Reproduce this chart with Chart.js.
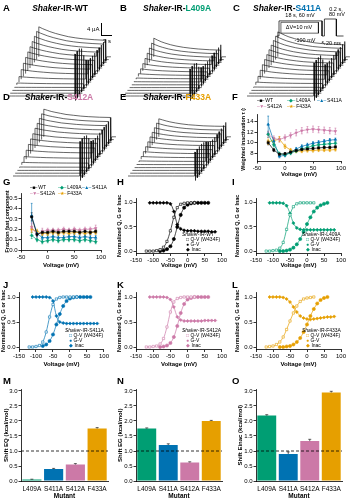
<!DOCTYPE html>
<html>
<head>
<meta charset="utf-8">
<script src="https://cdn.jsdelivr.net/npm/chart.js@4.4.1/dist/chart.umd.min.js"></script>
<style>
html,body{margin:0;padding:0;background:#fff;}
body{width:353px;height:500px;position:relative;overflow:hidden;font-family:'Liberation Sans',Arial,Helvetica,sans-serif;color:#000;}
canvas{position:absolute;}
.t{position:absolute;white-space:nowrap;line-height:1;}
.sb{position:absolute;border-left:0.8px solid #000;border-bottom:0.8px solid #000;box-sizing:border-box;}
</style>
</head>
<body>
<script>
// ---------------- DATA ----------------
const COLORS = {WT:'#000000', L409A:'#009E73', S411A:'#0072B2', S412A:'#CC79A7', F433A:'#E69F00'};
const MUTANTS = ['L409A','S411A','S412A','F433A'];

// current traces (A-E): 15 sweeps, -80..+60 mV
const traceVolt = [-80,-70,-60,-50,-40,-30,-20,-10,0,10,20,30,40,50,60];
const decayTime = [0,1,2,3,4.5,6,8,10,12,15,18];
const peakWT    = [0,0,0,0.1,0.6,1.8,3.2,4.4,5.4,6.3,7.1,7.9,8.7,9.4,10.0];
const decayWT   = [1,0.94,0.89,0.84,0.78,0.73,0.67,0.63,0.6,0.57,0.55];
const testWT    = [14,14,13.9,13,9.8,7.3,6.3,6,5.9,5.9,5.9,5.8,5.8,5.8,5.8];
const peakL409A = [0,0,0,0,0,0.1,0.4,0.9,1.6,2.4,3.2,4.0,4.8,5.5,6.2];
const decayL409A= [1,0.9,0.81,0.74,0.65,0.58,0.51,0.46,0.42,0.38,0.36];
const testL409A = [9,9,8.9,8.2,6,4.8,4.3,4.2,4.1,4.1,4.1,4.1,4,4,4];
const peakS411A = [0,0,0,0.2,0.9,1.9,3,3.9,4.7,5.4,6.1,6.7,7.3,7.8,8.3];
const decayS411A= [1,0.93,0.86,0.8,0.73,0.67,0.61,0.56,0.53,0.5,0.48];
const testS411A = [11,11,11,10.7,8.4,5.8,5.3,5.2,5.2,5.2,5.2,5.2,5.1,5.1,5.1];
const peakS412A = [0,0,0,0.2,0.8,1.8,3,4,4.9,5.7,6.6,7.3,8,8.6,9.2];
const decayS412A= [1,0.96,0.92,0.89,0.85,0.81,0.78,0.75,0.73,0.71,0.7];
const testS412A = [11.5,11.5,11.4,10.7,8.9,7,6.3,6.1,6,6,6,6,6,6,6];
const peakF433A = [0,0,0,0,0.1,0.35,0.9,1.6,2.3,3,3.7,4.3,4.9,5.5,6.0];
const decayF433A= [1,0.94,0.88,0.83,0.77,0.72,0.67,0.64,0.61,0.59,0.58];
const testF433A = [8,8,8,7.9,7.5,6.7,5.7,5,4.7,4.5,4.5,4.5,4.6,4.7,4.8];

// voltage protocol (schematic time units)
const protoTime = [-1,0,0,18,18,19,19,24,24,27];
const protoVolt = [-100,-100,60,60,-100,-100,80,80,-100,-100];
const famLevels = [-70,45];
const famSpan   = [0.8,16.5];

// F: weighted inactivation tau (s)
const tauVolt = [-30,-20,-10,0,10,20,30,40,50,60,70,80,90];
const tauWT    = [10.0,8.6,7.8,7.9,8.2,8.5,8.7,8.8,8.9,9.0,9.1,9.1,9.2];
const tauL409A = [11.6,9.6,7.9,7.7,8.0,8.4,8.8,9.1,9.4,9.6,9.7,9.8,9.9];
const tauS411A = [13.5,10.3,7.4,7.6,8.2,8.8,9.3,9.6,9.9,10.1,10.3,10.5,10.6];
const tauS412A = [11.6,10.8,10.6,11.0,11.4,11.9,12.3,12.5,12.6,12.5,12.4,12.3,12.2];
const tauF433A = [10.2,10.4,10.7,9.3,8.6,8.4,8.4,8.5,8.5,8.6,8.6,8.6,8.7];
const tauErrWT    = [0.4,0.3,0.2,0.2,0.2,0.2,0.2,0.2,0.2,0.2,0.2,0.2,0.2];
const tauErrL409A = [0.6,0.4,0.3,0.3,0.3,0.3,0.3,0.3,0.3,0.3,0.3,0.3,0.3];
const tauErrS411A = [1.6,0.6,0.3,0.3,0.3,0.3,0.3,0.3,0.3,0.3,0.3,0.3,0.3];
const tauErrS412A = [0.6,0.5,0.5,0.5,0.5,0.6,0.6,0.6,0.6,0.6,0.6,0.6,0.6];
const tauErrF433A = [0.5,0.5,0.5,0.4,0.3,0.3,0.3,0.3,0.3,0.3,0.3,0.3,0.3];

// G: fraction fast component
const fastWT    = [0.32,0.15,0.17,0.17,0.18,0.17,0.18,0.18,0.18,0.17,0.18,0.17,0.18];
const fastL409A = [0.14,0.10,0.08,0.09,0.10,0.09,0.10,0.10,0.10,0.09,0.10,0.09,0.08];
const fastS411A = [0.33,0.16,0.12,0.12,0.13,0.12,0.12,0.13,0.13,0.12,0.13,0.12,0.12];
const fastS412A = [0.22,0.15,0.18,0.19,0.19,0.19,0.20,0.19,0.20,0.19,0.20,0.20,0.21];
const fastF433A = [0.20,0.18,0.16,0.16,0.17,0.16,0.17,0.16,0.17,0.17,0.16,0.17,0.17];
const fastErrWT    = [0.04,0.02,0.02,0.02,0.02,0.02,0.02,0.02,0.02,0.02,0.02,0.02,0.02];
const fastErrL409A = [0.03,0.02,0.02,0.02,0.02,0.02,0.02,0.02,0.02,0.02,0.02,0.02,0.02];
const fastErrS411A = [0.12,0.03,0.02,0.02,0.02,0.02,0.02,0.02,0.02,0.02,0.02,0.02,0.02];
const fastErrS412A = [0.04,0.03,0.03,0.02,0.02,0.02,0.02,0.02,0.02,0.02,0.02,0.02,0.03];
const fastErrF433A = [0.03,0.02,0.02,0.02,0.02,0.02,0.02,0.02,0.02,0.02,0.02,0.02,0.02];

// H-L: normalized Q-V, G-V, inactivation
const qvVolt   = [-120,-110,-100,-90,-80,-70,-60,-50,-40,-30,-20,-10,0,10,20];
const gvVolt   = [-80,-70,-60,-50,-40,-30,-20,-10,0,10,20,30,40,50,60];
const inacVolt = [-110,-100,-90,-80,-70,-60,-50,-40,-30,-20,-10,0,10,20,30,40,50,60,70,80];
const qvWT    = [0,0,0,0.01,0.03,0.08,0.2,0.42,0.7,0.9,0.97,0.99,1,1,1];
const gvWT    = [0,0.01,0.04,0.1,0.25,0.5,0.75,0.9,0.96,0.99,1,1,1,1,1];
const inacWT  = [1,1,1,1,1,1,0.98,0.82,0.55,0.46,0.43,0.42,0.42,0.42,0.41,0.41,0.41,0.41,0.4,0.4];
const qvL409A   = [0,0,0.01,0.02,0.06,0.18,0.45,0.75,0.92,0.98,1,1,1,1,1];
const gvL409A   = [0,0,0.01,0.03,0.07,0.14,0.25,0.4,0.56,0.7,0.82,0.9,0.95,0.98,1];
const inacL409A = [1,1,1,1,0.99,0.94,0.78,0.58,0.48,0.45,0.44,0.44,0.44,0.44,0.44,0.44,0.44,0.44,0.44,0.44];
const qvS411A   = [0,0,0.01,0.03,0.1,0.3,0.6,0.85,0.96,0.99,1,1,1,1,1];
const gvS411A   = [0.02,0.05,0.12,0.25,0.45,0.66,0.82,0.92,0.97,0.99,1,1,1,1,1];
const inacS411A = [1,1,1,1,1,0.99,0.92,0.62,0.5,0.48,0.47,0.47,0.47,0.47,0.47,0.47,0.47,0.47,0.47,0.47];
const qvS412A   = [0,0,0.01,0.02,0.06,0.17,0.4,0.7,0.9,0.97,0.99,1,1,1,1];
const gvS412A   = [0,0.01,0.03,0.08,0.2,0.42,0.68,0.86,0.95,0.98,1,1,1,1,1];
const inacS412A = [1,1,1,1,1,0.99,0.95,0.8,0.6,0.54,0.52,0.52,0.52,0.52,0.52,0.52,0.53,0.53,0.53,0.53];
const qvF433A   = [0,0.01,0.02,0.05,0.1,0.2,0.35,0.52,0.68,0.82,0.91,0.96,0.98,0.99,1];
const gvF433A   = [0,0,0.01,0.02,0.05,0.1,0.18,0.3,0.45,0.62,0.76,0.87,0.94,0.98,1];
const inacF433A = [1,1,1,1,0.99,0.96,0.9,0.8,0.7,0.62,0.58,0.56,0.55,0.56,0.57,0.58,0.59,0.6,0.6,0.61];

// M-O: energy shifts (kcal/mol)
const shiftQ       = [0.05,0.40,0.55,1.75];
const shiftQErr    = [0.01,0.02,0.03,0.03];
const shiftG       = [1.75,1.20,0.62,2.00];
const shiftGErr    = [0.02,0.04,0.02,0.02];
const shiftInac    = [2.18,0.90,1.33,2.95];
const shiftInacErr = [0.03,0.07,0.06,0.04];
const REF_LEVEL = 1.0;

// ---------------- HELPERS ----------------
const FONT = "'Liberation Sans', Arial, Helvetica, sans-serif";
Chart.defaults.font.family = FONT;
Chart.defaults.color = '#000';

function drawErr(chart){
  const ctx = chart.ctx;
  chart.data.datasets.forEach((ds,di)=>{
    if(!ds.errors) return;
    const meta = chart.getDatasetMeta(di);
    const ys = chart.scales[meta.yAxisID];
    ctx.save();
    ctx.strokeStyle = ds.errColor || ds.borderColor || '#000';
    ctx.lineWidth = 0.6;
    const cap = ds.errCap || 1.2;
    meta.data.forEach((el,i)=>{
      const e = ds.errors[i], d = ds.data[i];
      if(e==null || d==null) return;
      const v = (typeof d === 'object') ? d.y : d;
      const x = el.x;
      const y1 = ys.getPixelForValue(ds.errUp ? v : v-e), y2 = ys.getPixelForValue(v+e);
      ctx.beginPath();
      ctx.moveTo(x,y1); ctx.lineTo(x,y2);
      if(!ds.errUp){ctx.moveTo(x-cap,y1); ctx.lineTo(x+cap,y1);}
      ctx.moveTo(x-cap,y2); ctx.lineTo(x+cap,y2);
      ctx.stroke();
    });
    ctx.restore();
  });
}
const errPlugin = {
  id:'errbars',
  beforeDatasetsDraw(chart){ if(chart.config.type!=='bar') drawErr(chart); },
  afterDatasetsDraw(chart){ if(chart.config.type==='bar') drawErr(chart); }
};
const refPlugin = {
  id:'refline',
  afterDatasetsDraw(chart,args,opts){
    if(opts==null || opts.value==null) return;
    const y = chart.scales.y.getPixelForValue(opts.value), a = chart.chartArea, c = chart.ctx;
    c.save(); c.setLineDash([3,2]); c.strokeStyle='#000'; c.lineWidth=0.8;
    c.beginPath(); c.moveTo(a.left,y); c.lineTo(a.right,y); c.stroke(); c.restore();
  }
};
Chart.register(errPlugin, refPlugin);

function mkCanvas(L,T,W,H){
  const c = document.createElement('canvas');
  c.width=W; c.height=H;
  c.style.left=L+'px'; c.style.top=T+'px'; c.style.width=W+'px'; c.style.height=H+'px';
  document.body.appendChild(c);
  return c;
}
function addText(html,x,y,o){
  o = o||{};
  const d = document.createElement('div');
  d.className='t'; d.innerHTML=html;
  d.style.left=x+'px'; d.style.top=y+'px';
  d.style.fontSize=(o.size||6)+'px';
  d.style.fontWeight=o.bold?'bold':'normal';
  if(o.color) d.style.color=o.color;
  d.style.transform = o.center ? 'translate(-50%,-50%)' : (o.right ? 'translate(-100%,-50%)' : 'translateY(-50%)');
  document.body.appendChild(d);
  return d;
}
function axis(o){
  const a = {
    type:o.type||'linear',
    afterFit:(s)=>{ if(o.w!=null) s.width=o.w; if(o.h!=null) s.height=o.h; },
    border:{display:true,color:'#000',width:0.8},
    grid:{display:true,drawOnChartArea:false,drawTicks:o.drawTicks!==false,tickLength:2.5,tickColor:'#000',tickWidth:0.8},
    ticks:{font:{size:o.fs||6},color:'#000',padding:(o.tp!=null?o.tp:1),maxRotation:0,minRotation:0,autoSkip:false},
    title:{display:!!o.title,text:o.title||'',color:'#000',font:{size:o.tfs||6,weight:'bold'},padding:o.tpad||0}
  };
  if(o.min!=null) a.min=o.min;
  if(o.max!=null) a.max=o.max;
  if(o.ticks) a.afterBuildTicks=(s)=>{ s.ticks=o.ticks.map(v=>({value:v})); };
  if(o.cb) a.ticks.callback=o.cb;
  return a;
}
const baseOpts = {responsive:false, animation:false, events:[]};
function xyChart(rect,area,datasets,ax){
  const [L,T,W,H]=rect;
  const c = mkCanvas(L,T,W,H);
  return new Chart(c,{type:'scatter',data:{datasets},options:Object.assign({},baseOpts,{
    layout:{padding:{left:0,top:area.t-T,right:L+W-area.r,bottom:0}},
    plugins:{legend:{display:false},tooltip:{enabled:false}},
    scales:{x:axis(Object.assign({},ax.x,{h:T+H-area.b})), y:axis(Object.assign({},ax.y,{w:area.l-L}))}
  })});
}

// ---------------- TRACES (A-E) ----------------
const PX_PER_S=3.7, PX_PER_UA=3.0, DX_PX=2.2, DY_PX=2.8;
const TEST_DUR=0.15, TAIL_DIP=-1.5, TAIL_BACK=0.35, TRACE_END=19.5;
function traceDatasets(peaks,decay,tests){
  const dxs=DX_PX/PX_PER_S, dyu=DY_PX/PX_PER_UA;
  const tEnd=decayTime[decayTime.length-1];
  return peaks.map((p,i)=>{
    const ox=i*dxs, oy=i*dyu;
    const pts=[{x:ox,y:oy}];
    decayTime.forEach((t,k)=>pts.push({x:ox+t,y:oy+p*decay[k]}));
    pts.push({x:ox+tEnd,y:oy+tests[i]},{x:ox+tEnd+TEST_DUR,y:oy+tests[i]},
             {x:ox+tEnd+TEST_DUR,y:oy+TAIL_DIP},{x:ox+tEnd+TAIL_BACK,y:oy},{x:ox+TRACE_END,y:oy});
    return {data:pts,showLine:true,borderColor:'#000',borderWidth:0.6,pointRadius:0,fill:false};
  });
}
function traceChart(rect,origin,peaks,decay,tests){
  const [L,T,W,H]=rect, [x0,y0]=origin;
  const c=mkCanvas(L,T,W,H);
  new Chart(c,{type:'scatter',data:{datasets:traceDatasets(peaks,decay,tests)},options:Object.assign({},baseOpts,{
    layout:{padding:0},
    plugins:{legend:{display:false},tooltip:{enabled:false}},
    scales:{x:{type:'linear',display:false,min:(L-x0)/PX_PER_S,max:(L+W-x0)/PX_PER_S},
            y:{type:'linear',display:false,min:(y0-(T+H))/PX_PER_UA,max:(y0-T)/PX_PER_UA}}
  })});
}
traceChart([0,14,117,92],[8,96],peakWT,decayWT,testWT);
traceChart([117,14,117,92],[123,96],peakL409A,decayL409A,testL409A);
traceChart([235,14,118,92],[247,96],peakS411A,decayS411A,testS411A);
traceChart([0,100,117,85],[13,176],peakS412A,decayS412A,testS412A);
traceChart([117,100,117,85],[128,176],peakF433A,decayF433A,testF433A);

// scale bar (A)
(function(){
  const SB_I=4, SB_T=3, x=101, y=23;
  const d=document.createElement('div'); d.className='sb';
  d.style.left=x+'px'; d.style.top=y+'px'; d.style.width=(SB_T*PX_PER_S)+'px'; d.style.height=(SB_I*PX_PER_UA+0.8)+'px';
  document.body.appendChild(d);
  addText(SB_I+' μA',99.5,29,{size:6,right:true});
  addText(SB_T+' s',103,41,{size:6});
})();

// protocol inset (C)
(function(){
  const X0=279, PX=2.39, Y0=36, PY=0.0944;
  const L=274,T=6,W=79,H=40;
  const c=mkCanvas(L,T,W,H);
  const proto=protoTime.map((t,i)=>({x:t,y:protoVolt[i]}));
  const fam=[{x:famSpan[0],y:famLevels[0]},{x:famSpan[0],y:famLevels[1]},{x:famSpan[1],y:famLevels[1]},{x:famSpan[1],y:famLevels[0]},{x:famSpan[0],y:famLevels[0]}];
  new Chart(c,{type:'scatter',data:{datasets:[
    {data:proto,showLine:true,borderColor:'#000',borderWidth:0.7,pointRadius:0},
    {data:fam,showLine:true,borderColor:'#000',borderWidth:0.6,pointRadius:0}
  ]},options:Object.assign({},baseOpts,{layout:{padding:0},plugins:{legend:{display:false},tooltip:{enabled:false}},
    scales:{x:{type:'linear',display:false,min:(L-X0)/PX,max:(L+W-X0)/PX},
            y:{type:'linear',display:false,min:-100-(T+H-Y0)/PY,max:-100+(Y0-T)/PY}}})});
  addText('18 s, 60 mV',300,15.5,{size:5.5,center:true});
  addText('ΔV=10 mV',299,27.5,{size:5.5,center:true});
  addText('-100 mV',305,40.5,{size:5.5,center:true});
  addText('0.2 s,',336,9.5,{size:5.5,center:true});
  addText('80 mV',337,15,{size:5.5,center:true});
  addText('↖20 ms',321,43.5,{size:5.5});
})();

// ---------------- F & G ----------------
const PSTYLE = {WT:'rect',L409A:'rectRot',S411A:'triangle',S412A:'triangle',F433A:'star'};
const PROT   = {WT:0,L409A:0,S411A:0,S412A:180,F433A:0};
const SYM    = {WT:'■',L409A:'◆',S411A:'▲',S412A:'▼',F433A:'★'};
function seriesDS(key,vals,errs){
  return {data:tauVolt.map((v,i)=>({x:v,y:vals[i]})),errors:errs,showLine:true,
    borderColor:COLORS[key],backgroundColor:COLORS[key],borderWidth:0.7,
    pointRadius:1.5,pointBorderWidth:0.6,pointStyle:PSTYLE[key],pointRotation:PROT[key],errCap:0.9};
}
xyChart([233,108,115,72],{l:257,t:114,r:341,b:161},[
  seriesDS('WT',tauWT,tauErrWT),seriesDS('L409A',tauL409A,tauErrL409A),seriesDS('S411A',tauS411A,tauErrS411A),
  seriesDS('S412A',tauS412A,tauErrS412A),seriesDS('F433A',tauF433A,tauErrF433A)],
  {x:{min:-50,max:100,ticks:[-50,0,50,100],title:'Voltage (mV)',tpad:{top:0,bottom:2.4}},
   y:{min:6.5,max:15.5,ticks:[8,10,12,14],title:'Weighted inactivation τ (s)',tfs:5.3,tpad:{top:7,bottom:0}}});
xyChart([0,186,108,85],{l:21,t:193,r:101,b:250},[
  seriesDS('WT',fastWT,fastErrWT),seriesDS('L409A',fastL409A,fastErrL409A),seriesDS('S411A',fastS411A,fastErrS411A),
  seriesDS('S412A',fastS412A,fastErrS412A),seriesDS('F433A',fastF433A,fastErrF433A)],
  {x:{min:-50,max:100,ticks:[-50,0,50,100],title:'Voltage (mV)',tpad:{top:0,bottom:2.4}},
   y:{min:0,max:0.55,ticks:[0,0.1,0.2,0.3,0.4,0.5],cb:v=>Number(v).toFixed(1),title:'Fraction fast component',tfs:5.3,tpad:{top:3.9,bottom:0}}});
function seriesLegend(items){
  items.forEach(([k,x,y])=>addText('<span style="color:'+COLORS[k]+';letter-spacing:-0.6px">–'+SYM[k]+'–</span> '+k,x,y,{size:5}));
}
seriesLegend([['WT',257,100],['L409A',287,100],['S411A',317,100],['S412A',257,106],['F433A',287,106]]);
seriesLegend([['WT',30,186.5],['L409A',58,186.5],['S411A',82,186.5],['S412A',30,192.5],['F433A',58,192.5]]);

// ---------------- H-L ----------------
function qgiChart(rect,area,key,qv,gv,inac,ypt){
  const col=COLORS[key];
  const mk=(xs,ys)=>xs.map((v,i)=>({x:v,y:ys[i]}));
  const common={showLine:true,borderColor:col,borderWidth:0.7,pointRadius:1.6,pointBorderWidth:0.6,cubicInterpolationMode:'monotone'};
  xyChart(rect,area,[
    Object.assign({data:mk(qvVolt,qv),backgroundColor:'#fff',pointStyle:'rect'},common),
    Object.assign({data:mk(gvVolt,gv),backgroundColor:col,pointStyle:'circle'},common),
    Object.assign({data:mk(inacVolt,inac),backgroundColor:col,pointStyle:'rectRot',pointRadius:1.8},common)
  ],{x:{min:-150,max:100,ticks:[-150,-100,-50,0,50,100],title:'Voltage (mV)',tpad:{top:0,bottom:2.4}},
     y:{min:-0.05,max:1.1,ticks:[0,0.5,1],cb:v=>Number(v).toFixed(1),title:'Normalized Q, G or Inac',tfs:5.5,tpad:{top:ypt,bottom:0}}});
  const lx=area.l+46, ly=area.b-20;
  addText('<i>Shaker</i>-IR-'+key,lx,ly,{size:5});
  addText('<span style="color:'+col+'">□</span> Q-V (W434F)',lx+4,ly+5,{size:5});
  addText('<span style="color:'+col+'">●</span> G-V',lx+4,ly+10,{size:5});
  addText('<span style="color:'+col+'">◆</span> Inac',lx+4,ly+15,{size:5});
}
qgiChart([112,190,116,81],{l:136,t:198,r:222,b:253.5},'WT',qvWT,gvWT,inacWT,4.4);
qgiChart([231,190,117,81],{l:256,t:198,r:341,b:253.5},'L409A',qvL409A,gvL409A,inacL409A,3.4);
qgiChart([0,284,110,86],{l:19,t:292,r:104,b:349.5},'S411A',qvS411A,gvS411A,inacS411A,0.6);
qgiChart([112,284,116,86],{l:136,t:292,r:222,b:349.5},'S412A',qvS412A,gvS412A,inacS412A,4.4);
qgiChart([231,284,117,86],{l:256,t:292,r:341,b:349.5},'F433A',qvF433A,gvF433A,inacF433A,3.4);

// ---------------- M-O ----------------
function barChart(rect,area,vals,errs,ytitle,ypt){
  const [L,T,W,H]=rect;
  const c=mkCanvas(L,T,W,H);
  new Chart(c,{type:'bar',data:{labels:MUTANTS,datasets:[{data:vals,errors:errs,errUp:true,errColor:'#000',errCap:1.5,
      backgroundColor:MUTANTS.map(m=>COLORS[m]),borderWidth:0,barPercentage:0.88,categoryPercentage:1}]},
    options:Object.assign({},baseOpts,{
      layout:{padding:{left:0,top:area.t-T,right:L+W-area.r,bottom:0}},
      plugins:{legend:{display:false},tooltip:{enabled:false},refline:{value:REF_LEVEL}},
      scales:{
        x:axis({type:'category',h:T+H-area.b,drawTicks:false,tp:4.5,fs:6.5,title:'Mutant',tfs:6.5,tpad:{top:0,bottom:0.3}}),
        y:axis({min:0,max:3.05,w:area.l-L,ticks:[0,0.5,1,1.5,2,2.5,3],cb:v=>Number(v).toFixed(1),fs:6,title:ytitle,tfs:6,tpad:{top:ypt,bottom:0}})
      }})});
}
barChart([0,383,112,117],{l:21,t:389.5,r:108,b:481},shiftQ,shiftQErr,'Shift EQ (kcal/mol)',2.4);
barChart([112,383,115,117],{l:136,t:389.5,r:222,b:481},shiftG,shiftGErr,'Shift EG (kcal/mol)',4.4);
barChart([231,383,118,117],{l:256,t:389.5,r:342,b:481},shiftInac,shiftInacErr,'Shift Einac (kcal/mol)',5.4);

// ---------------- LABELS ----------------
[['A',3,8],['B',120,8],['C',233,8],['D',3,97],['E',120,97],['F',232,97],
 ['G',3,182],['H',117,182],['I',232,182],['J',3,285],['K',117,285],['L',232,285],
 ['M',3,381],['N',117,381],['O',232,381]].forEach(([s,x,y])=>addText(s,x,y,{size:9.5,bold:true}));
function title(mut,x,y){
  const col=COLORS[mut]==='#000000'?'#000':COLORS[mut];
  addText('<i>Shaker</i>-IR-<span style="color:'+col+'">'+mut+'</span>',x,y,{size:8.5,bold:true,center:true});
}
title('WT',60,8); title('L409A',177,8); title('S411A',287,8); title('S412A',59,97); title('F433A',177,97);
</script>
</body>
</html>
